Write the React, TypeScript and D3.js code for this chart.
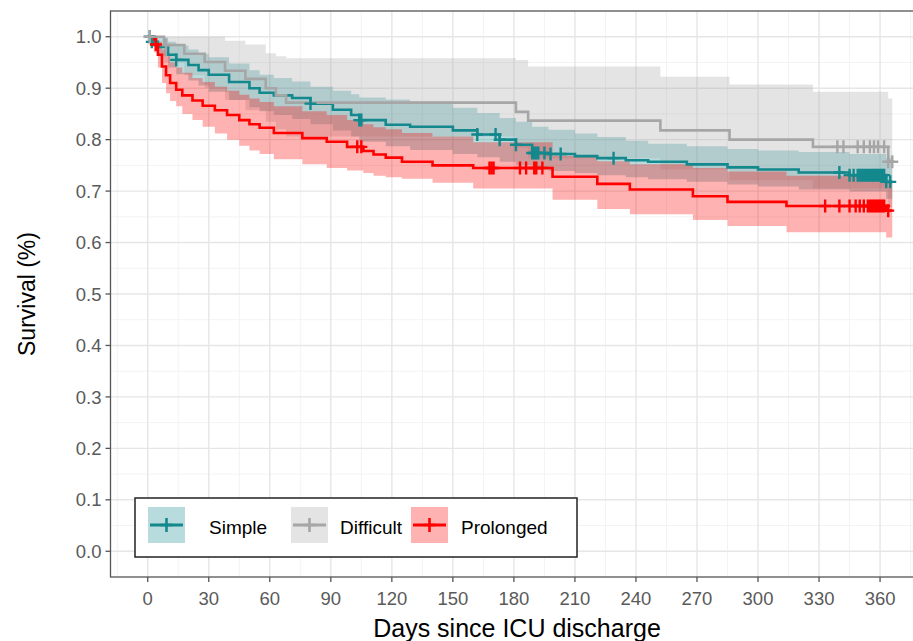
import React, { useEffect, useRef } from 'react';
import * as d3 from 'd3';

// axis ticks
const xTicks = [0, 30, 60, 90, 120, 150, 180, 210, 240, 270, 300, 330, 360];
const yTicks = [0, 0.1, 0.2, 0.3, 0.4, 0.5, 0.6, 0.7, 0.8, 0.9, 1.0];

// Simple weaning
const simpleTime = [0, 2, 5, 10, 14, 20, 25, 30, 40, 50, 55, 62, 71, 80, 91, 100, 104, 117, 129, 150, 162, 173, 181, 189, 197, 210, 221, 235, 246, 265, 285, 300, 320, 345, 363, 366];
const simpleSurv = [1.0, 0.99, 0.98, 0.965, 0.955, 0.945, 0.935, 0.926, 0.912, 0.9, 0.891, 0.886, 0.881, 0.87, 0.858, 0.848, 0.838, 0.829, 0.825, 0.818, 0.81, 0.8, 0.79, 0.774, 0.772, 0.768, 0.764, 0.76, 0.757, 0.752, 0.746, 0.742, 0.736, 0.731, 0.718, 0.718];
const simpleUpper = [1.0, 1.0, 0.998, 0.99, 0.983, 0.975, 0.967, 0.96, 0.948, 0.935, 0.926, 0.92, 0.913, 0.903, 0.895, 0.888, 0.882, 0.878, 0.874, 0.862, 0.852, 0.842, 0.835, 0.825, 0.819, 0.812, 0.805, 0.798, 0.792, 0.787, 0.782, 0.779, 0.776, 0.772, 0.765, 0.765];
const simpleLower = [1.0, 0.98, 0.962, 0.94, 0.927, 0.915, 0.905, 0.893, 0.877, 0.863, 0.855, 0.848, 0.84, 0.83, 0.818, 0.806, 0.796, 0.787, 0.78, 0.772, 0.766, 0.757, 0.75, 0.742, 0.739, 0.735, 0.731, 0.727, 0.723, 0.718, 0.713, 0.709, 0.703, 0.699, 0.685, 0.685];
const simpleCensor = [1, 2, 14, 80, 104, 105, 162, 171, 173, 181, 189, 190, 191, 192, 195, 198, 203, 229, 340, 345, 347, 349, 350, 351, 352, 353, 354, 355, 356, 357, 358, 359, 360, 361, 362, 363, 365];

// Difficult weaning
const difficultTime = [0, 8, 18, 28, 38, 48, 58, 63, 68, 181, 187, 252, 286, 327, 364, 366];
const difficultSurv = [1.0, 0.984, 0.967, 0.951, 0.934, 0.918, 0.9, 0.886, 0.872, 0.854, 0.837, 0.818, 0.8, 0.786, 0.757, 0.757];
const difficultUpper = [1.0, 1.0, 1.0, 1.0, 0.992, 0.985, 0.968, 0.962, 0.958, 0.955, 0.942, 0.922, 0.907, 0.893, 0.88, 0.88];
const difficultLower = [1.0, 0.95, 0.925, 0.9, 0.877, 0.857, 0.835, 0.82, 0.806, 0.784, 0.764, 0.742, 0.721, 0.705, 0.668, 0.668];
const difficultCensor = [1, 9, 339, 342, 349, 352, 355, 357, 359, 362, 364, 366];

// Prolonged weaning
const prolongedTime = [0, 3, 5, 7, 9, 11, 14, 17, 22, 27, 33, 39, 45, 50, 55, 62, 76, 88, 98, 106, 111, 117, 125, 140, 160, 199, 221, 237, 268, 285, 314, 363, 366];
const prolongedSurv = [1.0, 0.985, 0.965, 0.942, 0.925, 0.91, 0.897, 0.886, 0.876, 0.866, 0.857, 0.848, 0.838, 0.83, 0.823, 0.813, 0.803, 0.796, 0.786, 0.778, 0.771, 0.765, 0.757, 0.75, 0.745, 0.728, 0.714, 0.703, 0.69, 0.679, 0.671, 0.662, 0.662];
const prolongedUpper = [1.0, 1.0, 0.99, 0.975, 0.962, 0.95, 0.94, 0.93, 0.92, 0.912, 0.903, 0.895, 0.887, 0.88, 0.873, 0.865, 0.855, 0.848, 0.838, 0.83, 0.824, 0.82, 0.813, 0.806, 0.795, 0.768, 0.758, 0.752, 0.745, 0.738, 0.73, 0.72, 0.72];
const prolongedLower = [1.0, 0.97, 0.94, 0.91, 0.89, 0.875, 0.865, 0.85, 0.838, 0.825, 0.812, 0.8, 0.788, 0.779, 0.772, 0.762, 0.752, 0.745, 0.74, 0.735, 0.73, 0.727, 0.724, 0.716, 0.705, 0.683, 0.665, 0.655, 0.644, 0.632, 0.62, 0.61, 0.61];
const prolongedCensor = [4, 103, 105, 168, 169, 170, 183, 186, 190, 191, 194, 333, 340, 345, 348, 350, 352, 354, 355, 356, 357, 358, 359, 360, 361, 362, 364];

const groupNames = ['Simple', 'Difficult', 'Prolonged'];
const groupColors = ['#13888D', '#A6A6A6', '#FF0000'];

function App() {
  const chartRef = useRef<HTMLDivElement>(null);

  useEffect(() => {
    const width = 913;
    const height = 641;
    const panel = { left: 110.5, top: 11, right: 929.5, bottom: 577 };

    d3.select(chartRef.current).select('svg').remove();

    const svg = d3
      .select(chartRef.current)
      .append('svg')
      .attr('width', width)
      .attr('height', height)
      .style('display', 'block')
      .style('font-family', '"Liberation Sans", Arial, sans-serif');

    svg.append('rect').attr('width', width).attr('height', height).attr('fill', '#fff');

    const x = d3.scaleLinear().domain([-18.3, 384.3]).range([panel.left, panel.right]);
    const y = d3.scaleLinear().domain([-0.05, 1.05]).range([panel.bottom, panel.top]);

    svg
      .append('clipPath')
      .attr('id', 'panel-clip')
      .append('rect')
      .attr('x', panel.left)
      .attr('y', panel.top)
      .attr('width', panel.right - panel.left)
      .attr('height', panel.bottom - panel.top);

    const plot = svg.append('g').attr('clip-path', 'url(#panel-clip)');

    // grid
    const xMinor = d3.range(-15, 390, 30);
    const yMinor = d3.range(0.05, 1.0, 0.1);
    plot.selectAll('.xminor').data(xMinor).enter().append('line')
      .attr('x1', (d) => x(d)).attr('x2', (d) => x(d))
      .attr('y1', panel.top).attr('y2', panel.bottom)
      .attr('stroke', '#F3F3F3').attr('stroke-width', 1);
    plot.selectAll('.yminor').data(yMinor).enter().append('line')
      .attr('y1', (d) => y(d)).attr('y2', (d) => y(d))
      .attr('x1', panel.left).attr('x2', panel.right)
      .attr('stroke', '#F3F3F3').attr('stroke-width', 1);
    plot.selectAll('.xmajor').data(xTicks).enter().append('line')
      .attr('x1', (d) => x(d)).attr('x2', (d) => x(d))
      .attr('y1', panel.top).attr('y2', panel.bottom)
      .attr('stroke', '#E6E6E6').attr('stroke-width', 1.4);
    plot.selectAll('.ymajor').data(yTicks).enter().append('line')
      .attr('y1', (d) => y(d)).attr('y2', (d) => y(d))
      .attr('x1', panel.left).attr('x2', panel.right)
      .attr('stroke', '#E6E6E6').attr('stroke-width', 1.4);

    const groups = [
      { t: simpleTime, s: simpleSurv, u: simpleUpper, l: simpleLower, c: simpleCensor },
      { t: difficultTime, s: difficultSurv, u: difficultUpper, l: difficultLower, c: difficultCensor },
      { t: prolongedTime, s: prolongedSurv, u: prolongedUpper, l: prolongedLower, c: prolongedCensor },
    ];

    // confidence ribbons
    groups.forEach((g, gi) => {
      const rows = g.t.map((t, i) => ({ t, s: g.s[i], u: g.u[i], l: g.l[i] }));
      const area = d3
        .area<any>()
        .curve(d3.curveStepAfter)
        .x((d) => x(d.t))
        .y0((d) => y(d.l))
        .y1((d) => y(d.u));
      plot.append('path').datum(rows)
        .attr('d', area)
        .attr('fill', groupColors[gi])
        .attr('fill-opacity', 0.3);
    });

    // survival step lines
    groups.forEach((g, gi) => {
      const rows = g.t.map((t, i) => ({ t, s: g.s[i] }));
      const line = d3
        .line<any>()
        .curve(d3.curveStepAfter)
        .x((d) => x(d.t))
        .y((d) => y(d.s));
      plot.append('path').datum(rows)
        .attr('d', line)
        .attr('fill', 'none')
        .attr('stroke', groupColors[gi])
        .attr('stroke-width', 2.6);
    });

    // censor marks
    groups.forEach((g, gi) => {
      const valueAt = (day: number) => g.s[Math.max(0, d3.bisectRight(g.t, day) - 1)];
      plot.selectAll(null).data(g.c).enter().append('path')
        .attr('transform', (d) => `translate(${x(d)},${y(valueAt(d))})`)
        .attr('d', 'M-6,0H6M0,-6.5V6.5')
        .attr('fill', 'none')
        .attr('stroke', groupColors[gi])
        .attr('stroke-width', 2.4);
    });

    // panel border
    svg.append('rect')
      .attr('x', panel.left).attr('y', panel.top)
      .attr('width', panel.right - panel.left).attr('height', panel.bottom - panel.top)
      .attr('fill', 'none').attr('stroke', '#555').attr('stroke-width', 1.3);

    // axes ticks and labels
    const axisG = svg.append('g');
    axisG.selectAll('.xt').data(xTicks).enter().append('line')
      .attr('x1', (d) => x(d)).attr('x2', (d) => x(d))
      .attr('y1', panel.bottom).attr('y2', panel.bottom + 5)
      .attr('stroke', '#555').attr('stroke-width', 1.3);
    axisG.selectAll('.xl').data(xTicks).enter().append('text')
      .attr('x', (d) => x(d)).attr('y', 605)
      .attr('text-anchor', 'middle')
      .attr('fill', '#5a5a5a').style('font-size', '18.5px')
      .text((d) => String(d));
    axisG.selectAll('.yt').data(yTicks).enter().append('line')
      .attr('x1', panel.left - 5).attr('x2', panel.left)
      .attr('y1', (d) => y(d)).attr('y2', (d) => y(d))
      .attr('stroke', '#555').attr('stroke-width', 1.3);
    axisG.selectAll('.yl').data(yTicks).enter().append('text')
      .attr('x', panel.left - 9).attr('y', (d) => y(d))
      .attr('dy', '0.36em')
      .attr('text-anchor', 'end')
      .attr('fill', '#5a5a5a').style('font-size', '18.5px')
      .text((d) => d.toFixed(1));

    svg.append('text')
      .attr('x', 517).attr('y', 637)
      .attr('text-anchor', 'middle')
      .style('font-size', '25px')
      .text('Days since ICU discharge');

    svg.append('text')
      .attr('transform', 'translate(35,294) rotate(-90)')
      .attr('text-anchor', 'middle')
      .style('font-size', '23px')
      .text('Survival (%)');

    // legend
    const legend = svg.append('g');
    legend.append('rect')
      .attr('x', 135).attr('y', 498).attr('width', 442).attr('height', 59)
      .attr('fill', '#fff').attr('stroke', '#222').attr('stroke-width', 1.5);
    const keyX = [148, 291, 411];
    const textX = [209, 340, 461];
    groupNames.forEach((name, i) => {
      legend.append('rect')
        .attr('x', keyX[i]).attr('y', 507).attr('width', 37).attr('height', 36)
        .attr('fill', groupColors[i]).attr('fill-opacity', 0.3);
      legend.append('line')
        .attr('x1', keyX[i] + 2).attr('x2', keyX[i] + 35)
        .attr('y1', 525).attr('y2', 525)
        .attr('stroke', groupColors[i]).attr('stroke-width', 2.8);
      legend.append('path')
        .attr('transform', `translate(${keyX[i] + 18.5},525)`)
        .attr('d', 'M-6,0H6M0,-7V7')
        .attr('stroke', groupColors[i]).attr('stroke-width', 2.6);
      legend.append('text')
        .attr('x', textX[i]).attr('y', 527).attr('dy', '0.36em')
        .style('font-size', '19px')
        .text(name);
    });
  }, []);

  return <div ref={chartRef} style={{ position: 'absolute', left: 0, top: 0 }}></div>;
}

export default App;
